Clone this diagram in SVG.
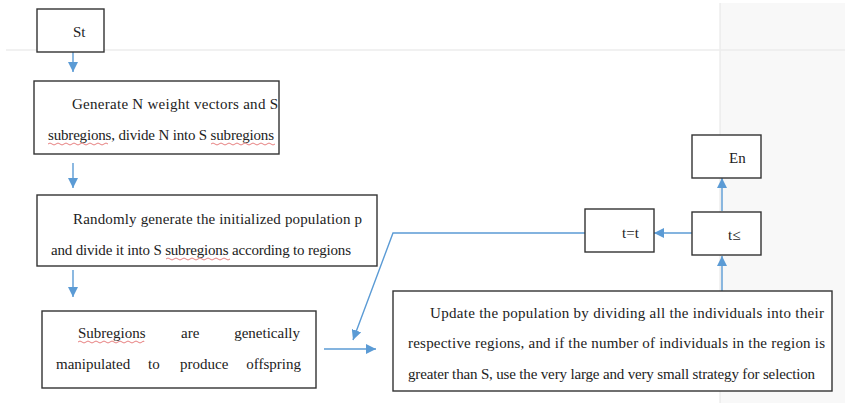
<svg xmlns="http://www.w3.org/2000/svg" width="845" height="403" viewBox="0 0 845 403">
<style>
.box{fill:#fff;stroke:#333;stroke-width:1.4}
.t{font-family:'Liberation Serif','Tinos','DejaVu Serif',serif;font-size:15px;fill:#222}
.c{fill:none;stroke:#5b9bd5;stroke-width:1.4}
.sq{fill:none;stroke:#e06060;stroke-width:0.8}
</style>
<defs>
<marker id="ah" viewBox="0 0 10 10" refX="10" refY="5" markerWidth="10" markerHeight="10" markerUnits="userSpaceOnUse" orient="auto">
<path d="M0,0 L10,5 L0,10 z" fill="#5b9bd5"/>
</marker>
</defs>
<rect x="0" y="0" width="845" height="403" fill="#fff"/>
<rect x="720" y="3" width="125" height="400" fill="#f8f8f8"/>
<line x1="720" y1="3" x2="720" y2="403" stroke="#e4e4e4" stroke-width="1"/>
<line x1="6" y1="50" x2="845" y2="50" stroke="#ececec" stroke-width="1.5"/>

<g id="connectors">
<path class="c" d="M73 52 V72" marker-end="url(#ah)"/>
<path class="c" d="M73 163 V188" marker-end="url(#ah)"/>
<path class="c" d="M73 270 V297" marker-end="url(#ah)"/>
<path class="c" d="M324 349 H376" marker-end="url(#ah)"/>
<path class="c" d="M722 291 V256" marker-end="url(#ah)"/>
<path class="c" d="M722 211 V178" marker-end="url(#ah)"/>
<path class="c" d="M692 233 H654" marker-end="url(#ah)"/>
<path class="c" d="M585 233 H393 L353 340" marker-end="url(#ah)"/>
</g>

<g id="start">
<rect class="box" x="37" y="9" width="67" height="43"/>
<text class="t" x="73" y="37">St</text>
</g>

<g id="generate">
<rect class="box" x="34" y="81" width="245" height="73"/>
<text class="t" x="72" y="109" textLength="206" lengthAdjust="spacing" font-family="Liberation Serif">Generate N weight vectors and S</text>
<text class="t" x="48" y="140" textLength="226" lengthAdjust="spacing">subregions, divide N into S subregions</text>
<path class="sq" d="M48 144 q2 -2 4 0 t4 0 t4 0 t4 0 t4 0 t4 0 t4 0 t4 0 t4 0 t4 0 t4 0 t4 0 t4 0 t4 0 t4 0"/>
<path class="sq" d="M211 144 q2 -2 4 0 t4 0 t4 0 t4 0 t4 0 t4 0 t4 0 t4 0 t4 0 t4 0 t4 0 t4 0 t4 0 t4 0 t4 0 t4 0"/>
</g>

<g id="random">
<rect class="box" x="37" y="195" width="340" height="71"/>
<text class="t" x="73" y="224" textLength="289" lengthAdjust="spacing">Randomly generate the initialized population p</text>
<text class="t" x="51" y="255" textLength="300" lengthAdjust="spacing">and divide it into S subregions according to regions</text>
<path class="sq" d="M166 259 q2 -2 4 0 t4 0 t4 0 t4 0 t4 0 t4 0 t4 0 t4 0 t4 0 t4 0 t4 0 t4 0 t4 0 t4 0 t4 0 t4 0"/>
</g>

<g id="genetic">
<rect class="box" x="42" y="311" width="274" height="77"/>
<text class="t" x="78" y="338">Subregions</text>
<text class="t" x="181" y="338">are</text>
<text class="t" x="300" y="338" text-anchor="end">genetically</text>
<text class="t" x="56" y="369">manipulated</text>
<text class="t" x="148" y="369">to</text>
<text class="t" x="180" y="369">produce</text>
<text class="t" x="301" y="369" text-anchor="end">offspring</text>
<path class="sq" d="M78 342 q2 -2 4 0 t4 0 t4 0 t4 0 t4 0 t4 0 t4 0 t4 0 t4 0 t4 0 t4 0 t4 0 t4 0 t4 0 t4 0 t4 0 t2 0"/>
</g>

<g id="update">
<rect class="box" x="393" y="291" width="439" height="100"/>
<text class="t" x="430" y="318" textLength="394" lengthAdjust="spacing">Update the population by dividing all the individuals into their</text>
<text class="t" x="408" y="348" textLength="417" lengthAdjust="spacing">respective regions, and if the number of individuals in the region is</text>
<text class="t" x="408" y="379" textLength="407" lengthAdjust="spacing">greater than S, use the very large and very small strategy for selection</text>
</g>

<g id="cond">
<rect class="box" x="692" y="212" width="69" height="43"/>
<text class="t" x="728" y="240">t≤</text>
</g>

<g id="incr">
<rect class="box" x="585" y="209" width="69" height="43"/>
<text class="t" x="622" y="238">t=t</text>
</g>

<g id="end">
<rect class="box" x="692" y="135" width="69" height="43"/>
<text class="t" x="729" y="163">En</text>
</g>
</svg>
